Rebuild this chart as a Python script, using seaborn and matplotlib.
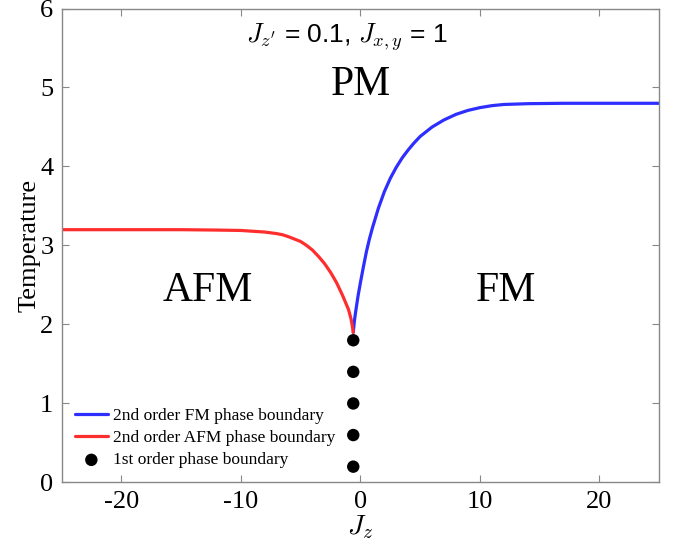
import matplotlib
matplotlib.use("Agg")
import matplotlib.pyplot as plt
import seaborn as sns
import pandas as pd

# phase boundary data
fm_jz = [-0.6, -0.5, -0.4, -0.2, 0.0, 0.25, 0.5, 0.75, 1.0, 1.5, 2.0, 2.5, 3.0, 3.5, 4.0, 4.5,
         5.0, 5.5, 6.0, 7.0, 8.0, 9.0, 10.0, 11.0, 12.0, 14.0, 17.0, 20.0, 25.0]
fm_t = [1.9, 2.05, 2.16, 2.36, 2.53, 2.73, 2.92, 3.08, 3.22, 3.47, 3.68, 3.85, 3.99, 4.11, 4.21, 4.30,
        4.38, 4.44, 4.50, 4.59, 4.66, 4.71, 4.745, 4.77, 4.785, 4.795, 4.8, 4.8, 4.8]

afm_jz = [-25.0, -15.0, -12.0, -10.0, -9.0, -8.0, -7.0, -6.5, -6.0, -5.5, -5.0, -4.5, -4.0, -3.5,
          -3.0, -2.5, -2.0, -1.75, -1.5, -1.25, -1.0, -0.8, -0.7, -0.6]
afm_t = [3.2, 3.2, 3.195, 3.19, 3.18, 3.17, 3.15, 3.135, 3.11, 3.08, 3.05, 3.0, 2.94, 2.86,
         2.77, 2.66, 2.53, 2.45, 2.37, 2.28, 2.19, 2.08, 2.0, 1.9]

first_jz = [-0.6, -0.6, -0.6, -0.6, -0.6]
first_t = [0.2, 0.6, 1.0, 1.4, 1.8]

sns.set_style("ticks")
plt.rcParams["font.family"] = ["Liberation Serif", "DejaVu Serif"]
plt.rcParams["mathtext.fontset"] = "cm"
plt.rcParams["axes.unicode_minus"] = False
plt.rcParams["text.color"] = "black"
plt.rcParams["axes.labelcolor"] = "black"
plt.rcParams["xtick.labelcolor"] = "black"
plt.rcParams["ytick.labelcolor"] = "black"

fig = plt.figure(figsize=(6.74, 5.52), dpi=100)
ax = fig.add_axes([0.0915, 0.126, 0.8865, 0.8586])

fm = pd.DataFrame({"Jz": fm_jz, "T": fm_t})
afm = pd.DataFrame({"Jz": afm_jz, "T": afm_t})
first = pd.DataFrame({"Jz": first_jz, "T": first_t})

sns.lineplot(data=fm, x="Jz", y="T", ax=ax, color="#2e2eff", linewidth=2.3,
             label="2nd order FM phase boundary")
sns.lineplot(data=afm, x="Jz", y="T", ax=ax, color="#ff2e2e", linewidth=2.3,
             label="2nd order AFM phase boundary")
sns.scatterplot(data=first, x="Jz", y="T", ax=ax, color="black", s=80,
                edgecolor="none", label="1st order phase boundary", zorder=5)

ax.set_xlim(-25, 25)
ax.set_ylim(0, 6)
ax.set_xticks([-20, -10, 0, 10, 20])
ax.set_yticks([0, 1, 2, 3, 4, 5, 6])
ax.tick_params(direction="in", top=True, right=True, length=5, width=0.8,
               color="#888888", labelsize=19, pad=6)
for sp in ax.spines.values():
    sp.set_color("#888888")
    sp.set_linewidth(1.0)

ax.set_xlabel("$J_z$", fontsize=20, labelpad=0)
ax.set_ylabel("Temperature", fontsize=19, labelpad=0)

ax.text(0.05, 5.03, "PM", fontsize=30, ha="center", va="center")
ax.text(-12.8, 2.43, "AFM", fontsize=30, ha="center", va="center")
ax.text(12.2, 2.43, "FM", fontsize=30, ha="center", va="center")
ax.text(-1.1, 5.63, "$J_{z'}$ = 0.1, $J_{x,y}$ = 1", fontsize=19,
        ha="center", va="center", family=["Liberation Sans", "DejaVu Sans"])

ax.legend(loc="lower left", frameon=False, fontsize=12.5, handlelength=1.9,
          handletextpad=0.3, labelspacing=0.35, borderaxespad=0.6,
          bbox_to_anchor=(-0.007, -0.007))

fig.savefig("out.png", dpi=100)
